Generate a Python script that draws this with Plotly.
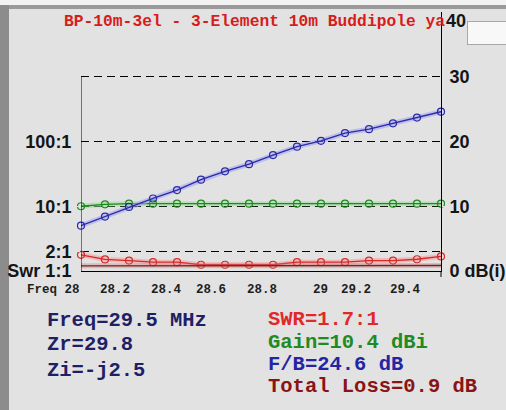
import plotly.graph_objects as go

# ---------------- data ----------------
freq = [28.0, 28.1, 28.2, 28.3, 28.4, 28.5, 28.6, 28.7, 28.8, 28.9, 29.0, 29.1, 29.2, 29.3, 29.4, 29.5]
swr = [1.78, 1.51, 1.45, 1.37, 1.37, 1.25, 1.25, 1.25, 1.25, 1.37, 1.37, 1.37, 1.45, 1.45, 1.52, 1.68]
gain_dbi = [10.0, 10.3, 10.4, 10.4, 10.4, 10.4, 10.4, 10.4, 10.4, 10.4, 10.4, 10.4, 10.4, 10.4, 10.4, 10.4]
fb_db = [7.0, 8.4, 9.9, 11.2, 12.5, 14.1, 15.4, 16.5, 17.9, 19.2, 20.1, 21.3, 21.9, 22.8, 23.7, 24.6]
loss_db = [0.8, 0.8, 0.8, 0.8, 0.8, 0.8, 0.8, 0.8, 0.8, 0.8, 0.8, 0.8, 0.8, 0.8, 0.85, 0.85]

swr_ticks = [1, 2, 10, 100]
swr_tick_text = ["Swr 1:1", "2:1", "10:1", "100:1"]
db_ticks = [0, 10, 20, 30]
db_tick_text = ["0 dB(i)", "10", "20", "30"]
db_top_label = "40"
x_tick_text = ["Freq 28", "28.2", "28.4", "28.6", "28.8", "29", "29.2", "29.4"]
x_tick_at = [27.885, 28.142, 28.358, 28.542, 28.754, 28.996, 29.146, 29.354]

title_text = "BP-10m-3el - 3-Element 10m Buddipole yagi"
readout_left = ["Freq=29.5 MHz", "Zr=29.8", "Zi=-j2.5"]
readout_right = ["SWR=1.7:1", "Gain=10.4 dBi", "F/B=24.6 dB", "Total Loss=0.9 dB"]

# ---------------- layout geometry ----------------
W, H = 506, 410
ML, MR, MT, MB = 81, 65, 12, 139
PW, PH = W - ML - MR, H - MT - MB
BG = "#e2e2e2"
X0, X1 = freq[0], freq[-1]

def px(x):
    return (x - ML) / PW

def py(y):
    return (H - MB - y) / PH

def fx(f):
    return (f - X0) / (X1 - X0)

MONO = "Liberation Mono"
SANS = "Liberation Sans"

fig = go.Figure()

def add_series(y, yaxis, color, halo, name, markers=True):
    fig.add_trace(go.Scatter(x=freq, y=y, yaxis=yaxis, mode="lines",
                             line=dict(color=halo, width=5), hoverinfo="skip",
                             showlegend=False, cliponaxis=False))
    fig.add_trace(go.Scatter(x=freq, y=y, yaxis=yaxis,
                             mode="lines+markers" if markers else "lines",
                             line=dict(color=color, width=1.3),
                             marker=dict(symbol="circle-open", size=7, color=color,
                                         line=dict(width=1.2, color=color)),
                             name=name, showlegend=False, cliponaxis=False))

add_series(loss_db, "y2", "#7a2222", "rgba(200,120,120,0.35)", "Loss", markers=False)
add_series(gain_dbi, "y2", "#1c8a1c", "rgba(150,220,150,0.55)", "Gain")
add_series(fb_db, "y2", "#2a2aa8", "rgba(160,160,245,0.55)", "F/B")
add_series(swr, "y", "#d42a2a", "rgba(245,170,170,0.75)", "SWR")

GRID_DASH = "8px,5px"

fig.update_layout(
    width=W, height=H, autosize=False,
    margin=dict(l=ML, r=MR, t=MT, b=MB, pad=0, autoexpand=False),
    paper_bgcolor=BG, plot_bgcolor=BG,
    showlegend=False,
    xaxis=dict(range=[X0, X1], showline=True, linecolor="black", linewidth=1, automargin=False,
               showgrid=False, zeroline=False, showticklabels=False, ticks=""),
    yaxis=dict(type="log", range=[0, 4], tickvals=swr_ticks, ticktext=swr_tick_text,
               automargin=False,
               showgrid=True, gridcolor="black", gridwidth=1, griddash=GRID_DASH,
               zeroline=False, showline=False, ticks="outside", ticklen=5, tickcolor=BG,
               tickfont=dict(family=SANS, size=18, color="#151515", weight="bold")),
    yaxis2=dict(range=[0, 40], overlaying="y", side="right", tickvals=db_ticks,
                ticktext=db_tick_text, showgrid=True, gridcolor="black", gridwidth=1,
                automargin=False,
                griddash=GRID_DASH, zeroline=False, showline=True, linecolor="black",
                linewidth=1, ticks="outside", ticklen=4, tickcolor=BG,
                tickfont=dict(family=SANS, size=18, color="#151515", weight="bold")),
)

shapes = [
    dict(type="rect", xref="paper", yref="paper", x0=px(0), x1=px(W), y0=py(0), y1=py(5),
         fillcolor="#f2f2f2", line=dict(width=0), layer="below"),
    dict(type="rect", xref="paper", yref="paper", x0=px(0), x1=px(W), y0=py(5), y1=py(9),
         fillcolor="#9a9a9a", line=dict(width=0), layer="below"),
    dict(type="rect", xref="paper", yref="paper", x0=px(0), x1=px(9), y0=py(5), y1=py(H),
         fillcolor="#8c8c8c", line=dict(width=0), layer="below"),
    dict(type="line", xref="x", yref="y2", x0=X0, x1=X0, y0=0, y1=db_ticks[-1],
         line=dict(color="black", width=1)),
    dict(type="line", xref="paper", yref="paper", x0=1, x1=1, y0=0, y1=py(H - MB + 6),
         line=dict(color="black", width=1)),
]
fig.update_layout(shapes=shapes)

ann = []
ann.append(dict(xref="paper", yref="paper", x=px(62), y=py(21), xanchor="left", yanchor="middle",
                text="<b>" + title_text + "</b>", showarrow=False,
                font=dict(family=MONO, size=16.3, color="#d81c1c")))
ann.append(dict(xref="paper", yref="paper", x=px(445), y=py(21), xanchor="left", yanchor="middle",
                text="<b>" + db_top_label + "</b>", showarrow=False, bgcolor=BG, borderpad=0,
                font=dict(family=SANS, size=18, color="#151515")))
ann.append(dict(xref="paper", yref="paper", x=px(467), y=py(21), xanchor="left", yanchor="top",
                text=" ", showarrow=False, width=56, height=20, bgcolor="#f8f8f8",
                bordercolor="#a8a8a8", borderwidth=1, borderpad=1))
for t, xv in zip(x_tick_text, x_tick_at):
    ann.append(dict(xref="paper", yref="paper", x=fx(xv), y=0, yshift=-19, xanchor="center",
                    yanchor="middle", text="<b>" + t + "</b>", showarrow=False,
                    font=dict(family=MONO, size=12.5, color="#1e1e1e")))
left_y = [320, 345, 370]
for t, yy in zip(readout_left, left_y):
    ann.append(dict(xref="paper", yref="paper", x=px(45), y=py(yy), xanchor="left",
                    yanchor="middle", text="<b>" + t + "</b>", showarrow=False,
                    font=dict(family=MONO, size=20.5, color="#1f1f66")))
right_colors = ["#e02a2a", "#228a22", "#2424a4", "#8a1414"]
right_y = [319, 342, 364, 386]
for t, yy, c in zip(readout_right, right_y, right_colors):
    ann.append(dict(xref="paper", yref="paper", x=px(266), y=py(yy), xanchor="left",
                    yanchor="middle", text="<b>" + t + "</b>", showarrow=False,
                    font=dict(family=MONO, size=20.5, color=c)))
fig.update_layout(annotations=ann)

fig.write_html("out.html", config={"displayModeBar": False},
               post_script="document.body.style.margin='0';document.body.style.overflow='hidden';")
